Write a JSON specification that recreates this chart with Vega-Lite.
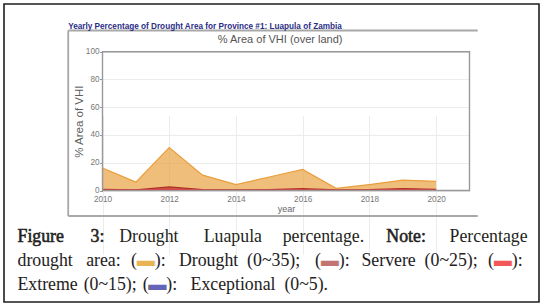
{
  "$schema": "https://vega.github.io/schema/vega-lite/v6.json",
  "width": 535,
  "height": 298,
  "autosize": {"type": "none"},
  "padding": {"left": 4, "top": 4, "right": 9, "bottom": 6},
  "background": "#ffffff",
  "config": {
    "view": {"stroke": "#1e1e1e", "strokeWidth": 1.6},
    "axis": {
      "labelFont": "Liberation Sans",
      "labelFontSize": 8.2,
      "labelColor": "#777777",
      "titleFont": "Liberation Sans",
      "titleFontWeight": "normal",
      "titleColor": "#606060"
    }
  },
  "title": {
    "text": "Yearly Percentage of Drought Area for Province #1: Luapula of Zambia",
    "anchor": "start",
    "frame": "group",
    "orient": "top",
    "offset": -33.2,
    "dx": 64.2,
    "baseline": "alphabetic",
    "font": "Liberation Sans",
    "fontSize": 8.2,
    "fontWeight": "bold",
    "color": "#2b2d86"
  },
  "datasets": {
    "drought": [
      {"year": 2010, "series": "Drought", "value": 16.2},
      {"year": 2011, "series": "Drought", "value": 6.0},
      {"year": 2012, "series": "Drought", "value": 30.9},
      {"year": 2013, "series": "Drought", "value": 11.1},
      {"year": 2014, "series": "Drought", "value": 4.3},
      {"year": 2015, "series": "Drought", "value": 9.7},
      {"year": 2016, "series": "Drought", "value": 15.2},
      {"year": 2017, "series": "Drought", "value": 1.6},
      {"year": 2018, "series": "Drought", "value": 4.3},
      {"year": 2019, "series": "Drought", "value": 7.5},
      {"year": 2020, "series": "Drought", "value": 6.6},
      {"year": 2010, "series": "Severe", "value": 0.8},
      {"year": 2011, "series": "Severe", "value": 0.5},
      {"year": 2012, "series": "Severe", "value": 2.6},
      {"year": 2013, "series": "Severe", "value": 0.6},
      {"year": 2014, "series": "Severe", "value": 0.4},
      {"year": 2015, "series": "Severe", "value": 0.6},
      {"year": 2016, "series": "Severe", "value": 1.3},
      {"year": 2017, "series": "Severe", "value": 0.4},
      {"year": 2018, "series": "Severe", "value": 0.6},
      {"year": 2019, "series": "Severe", "value": 1.4},
      {"year": 2020, "series": "Severe", "value": 0.8},
      {"year": 2010, "series": "Extreme", "value": 0.3},
      {"year": 2011, "series": "Extreme", "value": 0.2},
      {"year": 2012, "series": "Extreme", "value": 0.8},
      {"year": 2013, "series": "Extreme", "value": 0.2},
      {"year": 2014, "series": "Extreme", "value": 0.1},
      {"year": 2015, "series": "Extreme", "value": 0.2},
      {"year": 2016, "series": "Extreme", "value": 0.4},
      {"year": 2017, "series": "Extreme", "value": 0.1},
      {"year": 2018, "series": "Extreme", "value": 0.2},
      {"year": 2019, "series": "Extreme", "value": 0.5},
      {"year": 2020, "series": "Extreme", "value": 0.3},
      {"year": 2010, "series": "Exceptional", "value": 0},
      {"year": 2011, "series": "Exceptional", "value": 0},
      {"year": 2012, "series": "Exceptional", "value": 0},
      {"year": 2013, "series": "Exceptional", "value": 0},
      {"year": 2014, "series": "Exceptional", "value": 0},
      {"year": 2015, "series": "Exceptional", "value": 0},
      {"year": 2016, "series": "Exceptional", "value": 0},
      {"year": 2017, "series": "Exceptional", "value": 0},
      {"year": 2018, "series": "Exceptional", "value": 0},
      {"year": 2019, "series": "Exceptional", "value": 0},
      {"year": 2020, "series": "Exceptional", "value": 0}
    ],
    "caption": [
      {"line": 1, "text": "Figure\u2003\u20023:\u2002\u2004Drought\u2003\u00a0\u2006Luapula\u2003\u2006percentage.\u2003\u00a0Note:\u2003\u2004Percentage"},
      {"line": 2, "text": "drought\u2002\u00a0area:\u00a0\u2004(\u25ac):\u2002\u00a0Drought\u2002(0~35);\u2002\u2004(\u25ac):\u2002\u2006Servere\u2002(0~25);\u00a0\u2004(\u25ac):"},
      {"line": 3, "text": "Extreme\u2004(0~15);\u2004(\u25ac):\u2002\u00a0Exceptional\u2002(0~5)."}
    ]
  },
  "layer": [
    {
      "data": {"name": "drought"},
      "layer": [
        {
          "mark": {"type": "area", "fillOpacity": 0.68, "line": {"strokeWidth": 1.2}},
          "encoding": {
            "x": {
              "field": "year", "type": "quantitative",
              "scale": {"domain": [2010, 2021], "range": [98.5, 465.5], "nice": false, "zero": false},
              "axis": {
                "orient": "bottom", "offset": -111.5,
                "values": [2010, 2012, 2014, 2016, 2018, 2020], "format": "d",
                "labelFlush": false, "domain": false, "ticks": false, "labelPadding": 4.5,
                "grid": true, "gridColor": "#ececec", "gridWidth": 1,
                "title": "year", "titleFontSize": 9, "titleY": 21, "titleBaseline": "alphabetic", "titleColor": "#666666"
              }
            },
            "y": {
              "field": "value", "type": "quantitative", "stack": null,
              "scale": {"domain": [0, 100], "range": [186.5, 47.7], "nice": false, "zero": false},
              "axis": {
                "orient": "left", "offset": -98.5,
                "values": [0, 20, 40, 60, 80, 100],
                "domain": false, "ticks": true, "tickSize": 3, "tickColor": "#999999", "labelPadding": 0.5,
                "grid": true, "gridColor": "#ececec", "gridWidth": 1,
                "title": "% Area of VHI", "titleFontSize": 11.5, "titleX": -20.2, "titleBaseline": "alphabetic"
              }
            },
            "color": {
              "field": "series", "type": "nominal",
              "scale": {"domain": ["Drought", "Severe", "Extreme", "Exceptional"], "range": ["#e99f3c", "#b02f2a", "#e83030", "#4a3fa0"]},
              "legend": null
            }
          }
        },
        {
          "data": {"values": [{}]},
          "mark": {"type": "rect", "fillOpacity": 0, "stroke": "#999999", "strokeWidth": 1.4},
          "encoding": {
            "x": {
              "datum": 2010, "type": "quantitative",
              "axis": {
                "orient": "top", "offset": -47.7, "labels": false, "ticks": false, "domain": false, "grid": false,
                "title": "% Area of VHI (over land)", "titleFontSize": 11, "titleX": 275.6, "titleY": -9.2,
                "titleBaseline": "alphabetic", "titleAlign": "center", "titleColor": "#555555"
              }
            },
            "x2": {"datum": 2021},
            "y": {"datum": 0, "type": "quantitative", "axis": null},
            "y2": {"datum": 100}
          }
        },
        {
          "data": {"values": [{}]},
          "mark": {"type": "rule", "stroke": "#a8a8a8", "strokeWidth": 1.8},
          "encoding": {
            "x": {"datum": 2008.972, "type": "quantitative", "axis": null},
            "y": {"datum": 115.27, "type": "quantitative", "axis": null},
            "y2": {"datum": -18.37}
          }
        },
        {
          "data": {"values": [{}]},
          "mark": {"type": "rule", "stroke": "#a8a8a8", "strokeWidth": 1.8},
          "encoding": {
            "x": {"datum": 2008.972, "type": "quantitative", "axis": null},
            "x2": {"datum": 2021.246},
            "y": {"datum": 115.27, "type": "quantitative", "axis": null}
          }
        },
        {
          "data": {"values": [{}]},
          "mark": {"type": "rule", "stroke": "#a8a8a8", "strokeWidth": 2.2},
          "encoding": {
            "x": {"datum": 2008.972, "type": "quantitative", "axis": null},
            "x2": {"datum": 2021.246},
            "y": {"datum": -18.37, "type": "quantitative", "axis": null}
          }
        }
      ],
      "resolve": {"axis": {"x": "independent", "y": "independent"}}
    },
    {
      "data": {"name": "caption"},
      "encoding": {
        "x": {"datum": 0, "type": "quantitative", "scale": {"domain": [0, 1], "range": [13.5, 521.5]}, "axis": null},
        "y": {"field": "line", "type": "ordinal", "scale": {"type": "point", "domain": [1, 2, 3], "range": [237.8, 285.5], "padding": 0}, "axis": null},
        "text": {"field": "text"}
      },
      "layer": [
        {
          "transform": [{"filter": "datum.line === 1"}],
          "mark": {
            "type": "text", "align": "left", "baseline": "alphabetic", "font": "Liberation Serif", "fontSize": 17.8,
            "fill": "#231f20",
            "strokeWidth": 0.55,
            "stroke": {
              "gradient": "linear", "x1": 0, "y1": 0, "x2": 1, "y2": 0,
              "stops": [
                {"offset": 0, "color": "#231f20"},
                {"offset": 0.1704, "color": "#231f20"},
                {"offset": 0.1704, "color": "rgba(35,31,32,0)"},
                {"offset": 0.7232, "color": "rgba(35,31,32,0)"},
                {"offset": 0.7232, "color": "#231f20"},
                {"offset": 0.8006, "color": "#231f20"},
                {"offset": 0.8006, "color": "rgba(35,31,32,0)"},
                {"offset": 1, "color": "rgba(35,31,32,0)"}
              ]
            }
          }
        },
        {
          "transform": [{"filter": "datum.line === 2"}],
          "mark": {
            "type": "text", "align": "left", "baseline": "alphabetic", "font": "Liberation Serif", "fontSize": 17.8,
            "fill": {
              "gradient": "linear", "x1": 0, "y1": 0, "x2": 1, "y2": 0,
              "stops": [
                {"offset": 0, "color": "#231f20"},
                {"offset": 0.2366, "color": "#231f20"},
                {"offset": 0.2366, "color": "#e9b455"},
                {"offset": 0.2718, "color": "#e9b455"},
                {"offset": 0.2718, "color": "#231f20"},
                {"offset": 0.6007, "color": "#231f20"},
                {"offset": 0.6007, "color": "#c27474"},
                {"offset": 0.6359, "color": "#c27474"},
                {"offset": 0.6359, "color": "#231f20"},
                {"offset": 0.9433, "color": "#231f20"},
                {"offset": 0.9433, "color": "#f25858"},
                {"offset": 0.9785, "color": "#f25858"},
                {"offset": 0.9785, "color": "#231f20"},
                {"offset": 1, "color": "#231f20"}
              ]
            }
          }
        },
        {
          "transform": [{"filter": "datum.line === 3"}],
          "mark": {
            "type": "text", "align": "left", "baseline": "alphabetic", "font": "Liberation Serif", "fontSize": 17.8,
            "fill": {
              "gradient": "linear", "x1": 0, "y1": 0, "x2": 1, "y2": 0,
              "stops": [
                {"offset": 0, "color": "#231f20"},
                {"offset": 0.4221, "color": "#231f20"},
                {"offset": 0.4221, "color": "#6464b8"},
                {"offset": 0.4793, "color": "#6464b8"},
                {"offset": 0.4793, "color": "#231f20"},
                {"offset": 1, "color": "#231f20"}
              ]
            }
          }
        }
      ]
    }
  ],
  "resolve": {"scale": {"x": "independent", "y": "independent", "color": "independent"}, "axis": {"x": "independent", "y": "independent"}}
}
